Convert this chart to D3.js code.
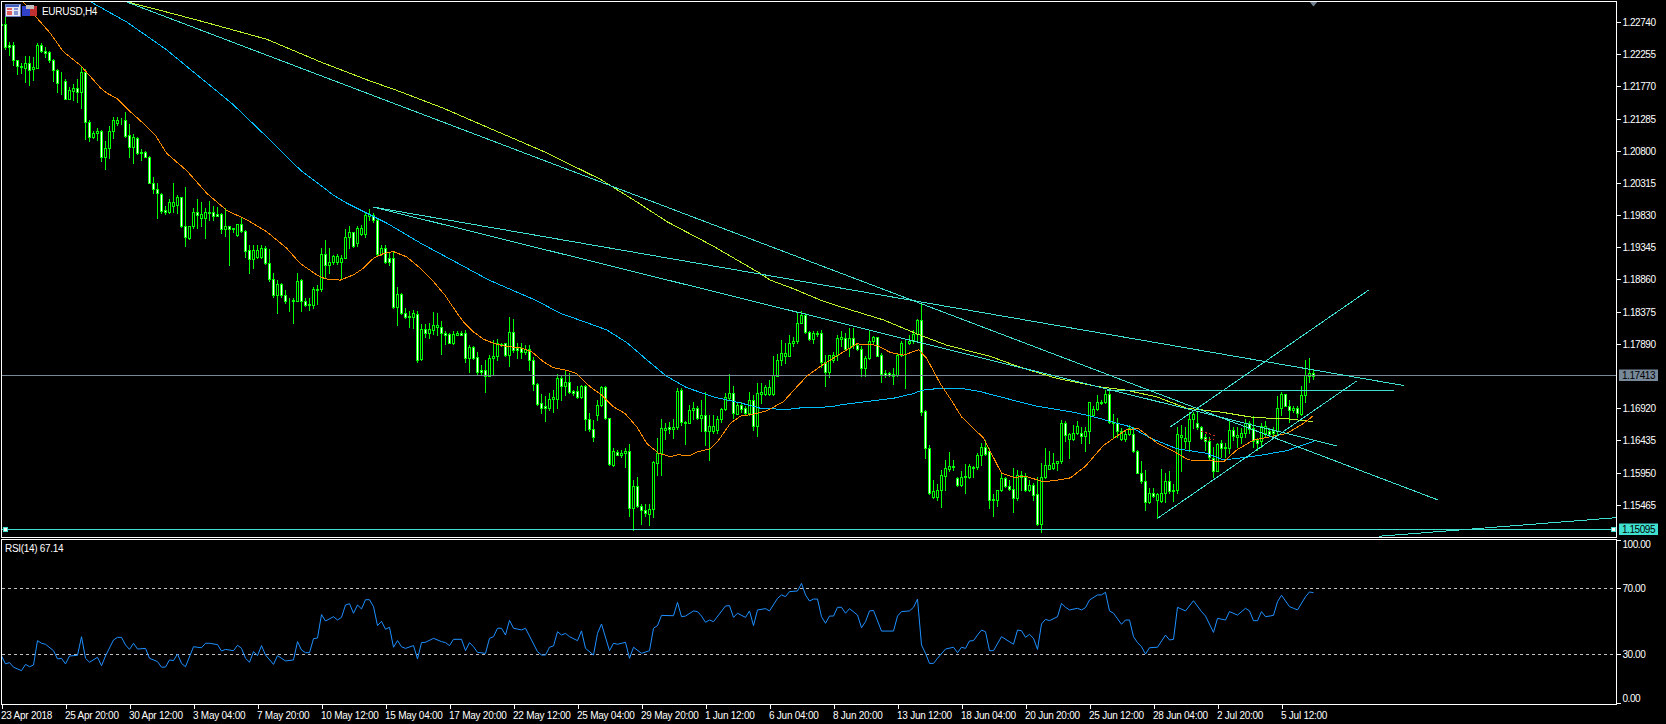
<!DOCTYPE html>
<html><head><meta charset="utf-8">
<style>html,body{margin:0;padding:0;background:#000;overflow:hidden}svg{display:block}
text{font-family:"Liberation Sans",Arial,sans-serif;font-size:10px;letter-spacing:-.45px;fill:#fff}
.t text{letter-spacing:-.25px}</style>
<script src="https://cdn.jsdelivr.net/npm/d3@7"></script></head><body><svg id="c" width="1666" height="724"></svg>
<script>
// All prices are in 1/10000 units (12274 = 1.2274)
const opens=[12271,12271,12239,12239,12216,12208,12205,12212,12203,12205,
12239,12230,12229,12216,12201,12184,12185,12158,12170,12174,
12169,12198,12124,12101,12106,12110,12070,12084,12110,12122,
12126,12127,12104,12086,12099,12078,12078,12071,12032,12023,
12015,11991,11988,11997,11998,12010,11966,11948,11966,11987,
11978,11978,11986,11987,11984,11984,11962,11966,11963,11953,
11970,11959,11930,11917,11920,11920,11934,11911,11887,11863,
11879,11862,11854,11854,11854,11885,11854,11849,11848,11870,
11872,11925,11908,11913,11913,11913,11919,11950,11957,11941,
11955,11955,11982,11983,11976,11925,11934,11918,11918,11845,
11864,11836,11831,11830,11834,11766,11811,11805,11810,11814,
11814,11805,11804,11791,11803,11805,11805,11768,11784,11769,
11750,11750,11740,11767,11770,11787,11790,11772,11807,11782,
11783,11776,11781,11765,11729,11700,11695,11693,11706,11706,
11737,11725,11731,11718,11718,11709,11726,11675,11661,11681,
11697,11724,11677,11607,11626,11621,11625,11627,11541,11575,
11545,11539,11533,11540,11610,11624,11659,11663,11661,11663,
11720,11671,11670,11689,11692,11677,11681,11657,11657,11659,
11675,11691,11707,11715,11684,11697,11692,11685,11705,11665,
11714,11714,11714,11714,11741,11764,11771,11771,11790,11793,
11820,11833,11807,11797,11804,11805,11762,11746,11765,11772,
11796,11798,11782,11798,11787,11781,11752,11767,11793,11799,
11772,11745,11745,11741,11742,11772,11790,11790,11793,11804,
11825,11688,11632,11558,11558,11568,11590,11601,11603,11587,
11577,11588,11588,11602,11603,11622,11634,11628,11555,11553,
11568,11587,11575,11570,11556,11592,11588,11569,11576,11562,
11518,11588,11601,11602,11610,11612,11669,11646,11646,11655,
11655,11650,11657,11681,11691,11700,11701,11713,11671,11670,
11645,11645,11653,11653,11627,11595,11582,11550,11564,11553,
11552,11564,11583,11569,11568,11648,11643,11643,11675,11670,
11664,11649,11642,11617,11598,11639,11632,11632,11659,11648,
11648,11655,11670,11662,11644,11642,11654,11658,11657,11657,
11692,11713,11696,11689,11693,11684,11712,11741,11745];
const highs=[12272,12282,12244,12244,12217,12212,12223,12223,12222,12242,
12243,12237,12231,12218,12203,12199,12188,12176,12181,12188,
12208,12203,12126,12109,12115,12111,12095,12117,12131,12131,
12130,12139,12120,12105,12101,12082,12080,12072,12040,12031,
12016,11997,12008,12032,12013,12011,12025,11966,11993,12008,
12003,11993,12004,11996,11995,11986,11993,11966,11964,11970,
11978,11961,11938,11938,11938,11938,11936,11932,11895,11885,
11881,11870,11858,11858,11895,11886,11858,11858,11875,11878,
11934,11946,11933,11923,11925,11923,11962,11966,11958,11967,
11968,11986,11992,11986,11978,11938,11938,11928,11928,11874,
11865,11843,11838,11840,11838,11819,11819,11820,11837,11835,
11823,11808,11806,11808,11808,11808,11810,11787,11786,11776,
11757,11765,11772,11795,11796,11790,11790,11829,11826,11790,
11790,11787,11787,11769,11730,11714,11710,11715,11720,11744,
11742,11750,11745,11720,11725,11727,11727,11685,11674,11705,
11725,11726,11677,11632,11629,11629,11632,11638,11584,11589,
11548,11547,11547,11612,11647,11676,11670,11671,11676,11722,
11722,11672,11697,11702,11696,11705,11716,11682,11682,11680,
11692,11715,11744,11725,11700,11702,11696,11717,11712,11730,
11730,11727,11735,11771,11774,11795,11790,11803,11800,11835,
11838,11835,11808,11808,11808,11810,11772,11772,11777,11803,
11808,11806,11813,11813,11790,11785,11771,11810,11801,11800,
11775,11750,11747,11752,11774,11793,11795,11803,11810,11826,
11850,11689,11637,11584,11578,11599,11614,11626,11614,11589,
11597,11608,11608,11605,11624,11639,11644,11632,11562,11569,
11594,11589,11584,11602,11599,11597,11595,11584,11579,11589,
11609,11632,11627,11624,11613,11674,11672,11654,11667,11672,
11664,11664,11702,11695,11712,11705,11720,11722,11684,11677,
11662,11659,11667,11664,11629,11612,11599,11572,11572,11564,
11600,11595,11597,11578,11664,11667,11664,11686,11687,11687,
11665,11653,11649,11634,11639,11644,11639,11672,11664,11664,
11662,11675,11672,11680,11647,11669,11672,11662,11664,11711,
11717,11713,11705,11695,11696,11726,11764,11768,11750];
const lows=[12268,12234,12224,12209,12196,12197,12183,12179,12187,12204,
12229,12222,12214,12185,12169,12166,12158,12158,12157,12154,
12144,12097,12095,12099,12096,12064,12053,12069,12099,12119,
12121,12101,12071,12062,12075,12066,12070,12031,12017,11979,
11986,11985,11986,11988,11986,11965,11936,11947,11963,11963,
11966,11948,11976,11975,11981,11956,11951,11908,11958,11952,
11957,11920,11895,11903,11918,11919,11910,11883,11860,11836,
11860,11851,11839,11821,11853,11839,11846,11840,11843,11849,
11869,11890,11896,11910,11910,11888,11918,11933,11935,11937,
11953,11950,11976,11973,11923,11923,11911,11908,11843,11818,
11834,11828,11814,11813,11762,11765,11799,11798,11804,11803,
11774,11788,11790,11788,11803,11802,11761,11747,11766,11744,
11742,11716,11740,11742,11765,11786,11771,11755,11777,11767,
11767,11774,11749,11720,11697,11685,11673,11690,11687,11692,
11704,11712,11715,11712,11707,11707,11659,11658,11643,11674,
11695,11675,11607,11605,11621,11619,11604,11529,11508,11543,
11518,11530,11516,11528,11592,11592,11645,11655,11647,11660,
11667,11638,11669,11675,11676,11657,11637,11614,11655,11655,
11671,11690,11704,11677,11683,11687,11683,11682,11659,11650,
11700,11712,11712,11712,11740,11757,11760,11771,11785,11791,
11820,11805,11795,11790,11801,11754,11725,11739,11762,11765,
11785,11780,11770,11782,11780,11740,11740,11766,11790,11770,
11731,11739,11740,11729,11741,11771,11722,11789,11791,11795,
11682,11617,11562,11557,11554,11543,11569,11598,11599,11575,
11574,11564,11587,11589,11601,11607,11622,11541,11530,11544,
11567,11573,11568,11535,11554,11569,11567,11567,11554,11516,
11506,11587,11600,11600,11599,11610,11643,11617,11644,11653,
11639,11627,11639,11680,11689,11699,11700,11669,11649,11648,
11644,11643,11652,11626,11594,11580,11539,11549,11558,11526,
11550,11550,11564,11552,11564,11598,11632,11628,11662,11660,
11645,11629,11614,11588,11597,11619,11619,11625,11644,11634,
11639,11649,11655,11634,11629,11634,11649,11650,11652,11652,
11681,11695,11671,11687,11679,11682,11701,11732,11736];
const closes=[12269,12237,12237,12216,12207,12206,12212,12201,12206,12239,
12230,12228,12216,12201,12182,12183,12158,12171,12174,12169,
12198,12124,12101,12106,12110,12070,12084,12110,12127,12127,
12127,12102,12086,12100,12076,12076,12071,12032,12023,12016,
11989,11988,12002,12002,12010,11966,11950,11966,11987,11983,
11985,11987,11988,11982,11982,11962,11966,11962,11962,11969,
11959,11929,11917,11931,11931,11934,11911,11887,11863,11879,
11863,11853,11853,11855,11884,11854,11848,11847,11871,11872,
11925,11908,11913,11922,11922,11919,11950,11958,11937,11963,
11963,11983,11985,11976,11925,11934,11913,11913,11845,11864,
11836,11829,11829,11835,11765,11811,11806,11811,11818,11817,
11805,11803,11791,11804,11806,11803,11768,11784,11768,11746,
11746,11740,11767,11771,11790,11789,11772,11807,11779,11779,
11776,11781,11765,11728,11699,11692,11692,11706,11709,11737,
11725,11731,11717,11715,11709,11725,11675,11661,11648,11697,
11724,11677,11608,11627,11622,11625,11627,11541,11575,11544,
11538,11534,11540,11611,11624,11662,11662,11660,11663,11718,
11671,11670,11690,11692,11677,11682,11657,11665,11665,11675,
11691,11709,11715,11685,11697,11691,11685,11705,11665,11715,
11717,11724,11724,11742,11765,11775,11775,11790,11793,11820,
11833,11807,11797,11805,11805,11762,11746,11772,11772,11798,
11799,11781,11798,11787,11781,11752,11767,11793,11799,11771,
11743,11742,11742,11744,11772,11790,11791,11794,11804,11825,
11687,11632,11564,11567,11568,11592,11602,11605,11605,11576,
11589,11590,11605,11604,11622,11634,11623,11554,11553,11569,
11587,11574,11570,11556,11592,11589,11569,11577,11561,11518,
11588,11607,11606,11610,11612,11669,11652,11653,11654,11665,
11650,11657,11701,11691,11702,11702,11713,11671,11670,11657,
11658,11653,11662,11627,11595,11582,11550,11564,11560,11562,
11564,11582,11567,11567,11653,11652,11647,11676,11684,11663,
11647,11642,11619,11598,11638,11632,11634,11659,11650,11652,
11655,11670,11661,11643,11640,11665,11665,11653,11654,11692,
11713,11696,11689,11692,11685,11712,11742,11745,11741];

// Moving averages as [bar, price] vertices
const orangeMA=[[5.2,12306],[8,12286],[12.2,12257],[15.5,12229],[19.7,12209],[24.7,12175],[26.3,12167],[28.8,12159],[31.8,12141],[35.5,12121],[38.4,12104],[41.3,12076],[46.3,12050],[51.3,12016],[56.3,11990],[61.3,11976],[66.3,11958],[71.3,11933],[74.7,11910],[78.8,11893],[80.9,11887],[84.7,11885],[88,11893],[90.5,11903],[93,11918],[95.5,11925],[98,11928],[101.3,11920],[104.7,11903],[107.7,11885],[110.9,11862],[113.8,11836],[115.5,11822],[118,11807],[120.5,11796],[123.4,11789],[126.3,11785],[129.7,11783],[132.6,11777],[135.5,11762],[138,11753],[141.3,11749],[143.8,11744],[147.2,11724],[150,11712],[153,11694],[155.9,11684],[158.8,11664],[161.3,11639],[164.3,11624],[167.2,11619],[169.3,11622],[171.8,11620],[173.8,11626],[177.2,11631],[179.3,11644],[182.2,11669],[184.7,11680],[188,11683],[191.3,11688],[195.5,11702],[198.8,11724],[201.3,11740],[204.7,11755],[209.7,11774],[213.8,11789],[218.8,11787],[222.2,11776],[225.5,11772],[229.3,11780],[231.3,11767],[234.7,11729],[238,11699],[240,11679],[245.5,11647],[250,11594],[253,11588],[256.3,11589],[260.5,11581],[264.3,11584],[267.2,11587],[270.9,11604],[275.5,11636],[281.3,11660],[284.3,11661],[288.8,11640],[293,11627],[296.8,11614],[302.2,11613],[305.5,11611],[308.8,11629],[313,11644],[317.2,11649],[321.3,11654],[325.5,11669],[327.8,11680]];
const blueMA=[[21.5,12307],[31.3,12274],[41.3,12232],[46.3,12207],[53,12174],[58,12149],[66.3,12101],[74.7,12051],[83,12013],[86.3,12001],[91.3,11986],[96.3,11971],[104.7,11941],[121.9,11885],[133.8,11854],[139.7,11835],[146.3,11821],[151.3,11810],[156.3,11791],[161.3,11765],[166.3,11740],[171.3,11723],[178,11709],[184.7,11700],[189.7,11692],[196.3,11690],[200.5,11693],[207.2,11694],[209.7,11697],[216.3,11702],[223,11707],[228,11714],[230,11719],[234.7,11722],[239.7,11722],[244.7,11717],[249.7,11709],[258.8,11695],[268,11686],[273,11679],[282.2,11664],[287.2,11647],[293.8,11631],[301.3,11624],[305.5,11614],[309.7,11617],[314.7,11621],[321.3,11628],[328,11642]];
const limeMA=[[29.7,12307],[41.3,12289],[51.3,12273],[66.3,12248],[79.7,12214],[91.3,12187],[99.7,12169],[110.5,12144],[123.9,12109],[135.5,12079],[149.7,12037],[158,12006],[166.4,11973],[178,11936],[189.7,11895],[192.2,11885],[198,11872],[204.7,11855],[209.7,11845],[220.5,11825],[229.7,11802],[236.3,11787],[247.2,11770],[255.5,11752],[263.8,11737],[274.7,11724],[281.3,11719],[288.8,11709],[296.3,11692],[305,11686],[313,11678],[321.3,11676],[327.8,11672]];

// Trend lines as [bar, price] end points
const trendLines=[
 [[29.2,12309],[359,11554]],
 [[93,11995],[350.7,11726]],
 [[93,11995],[333.9,11635]],
 [[276.4,11719],[348,11719]],
 [[344.4,11499],[403.7,11527]],
 [[289,11526],[338.8,11733]],
 [[292,11663],[341.8,11870]]
];
const redDashes=[[[300,11657],[303.7,11650]],[[300.9,11645],[303.2,11644]]];
const supportLevel=11509.5, bidLevel=11741.3;

const rsiSeries=[[0,28.8],[1,24],[2,24.8],[3,22],[5,19.9],[6,23.7],[7,22.3],[8,23.3],[9,38.1],[10,36.5],[11,35.9],[13,32],[14,27],[15,27.4],[16,24],[17,28.8],[19,29.2],[20,40.5],[21,27.4],[22,25],[24,28],[25,22.9],[26,28.8],[28,38.5],[29,40.1],[30,40.1],[31,35.5],[32,32.8],[33,36.5],[34,33],[36,33.4],[37,27.4],[39,25.4],[40,22],[41,22.1],[42,26.4],[43,26],[44,30],[45,24.3],[46,22.3],[48,34.4],[50,33.8],[51,36.5],[52,36.5],[54,35.7],[55,31.8],[56,32.8],[58,32],[59,35.3],[60,33.4],[61,27.4],[62,25],[63,31.4],[64,29],[65,35.1],[66,29.4],[68,23.7],[69,29],[71,25.8],[73,26.4],[74,37.5],[75,32.4],[76,30.8],[77,30.8],[78,39.3],[79,39.7],[80,53.9],[81,50],[83,52.6],[84,50.6],[85,52.2],[86,59.7],[87,60.5],[88,54.7],[89,59.7],[90,57.3],[91,62.9],[92,62.9],[93,58.7],[94,47.2],[95,49.8],[96,45],[97,46.2],[98,34.1],[99,38.1],[100,34.4],[101,33.4],[103,35.1],[104,27],[105,36.9],[106,37.1],[108,39.5],[110,37.5],[111,36.9],[112,35.1],[113,38.9],[115,38.9],[116,32],[117,36.9],[118,34.4],[119,31],[121,30.4],[122,39.5],[123,40.5],[124,45.6],[125,45.6],[126,41.5],[127,50.4],[128,45.6],[130,44.6],[131,45.6],[134,31.4],[135,29.4],[136,29.4],[137,34.1],[138,34.9],[139,43.5],[140,41.5],[141,42.5],[142,40.5],[144,38.1],[145,44],[146,33.4],[148,29.4],[149,42.5],[150,48.2],[152,32],[153,36.5],[154,35.9],[156,37.1],[157,27.4],[158,34.1],[160,30.4],[162,32],[163,45.6],[164,47.2],[165,53.4],[168,53.2],[169,61.3],[170,52.6],[171,53],[173,56.1],[174,55.7],[175,53],[176,49.2],[177,50.6],[178,49.6],[181,59.1],[182,59.3],[183,52.2],[184,54.7],[186,52.2],[187,56.1],[188,47.2],[189,56.7],[191,57.5],[192,56.1],[194,63.7],[195,65.8],[196,64.8],[197,67.8],[199,68.2],[200,72.8],[201,65.8],[202,62.1],[203,63.3],[204,63.3],[205,52.6],[206,48.6],[207,53],[208,53],[209,58.3],[210,58.3],[211,54.7],[212,57.5],[214,53.6],[215,45.9],[216,49.6],[217,56.1],[218,56.4],[220,43.9],[223,43.9],[224,53],[225,55.7],[227,56.1],[228,58.3],[229,63.3],[230,35.5],[231,30.4],[232,24.3],[233,24.3],[234,27.4],[236,33],[238,34.1],[239,30.8],[240,34.1],[241,33.4],[242,37.9],[243,38.1],[244,41.5],[245,44.5],[246,43.5],[247,32],[248,32],[250,40.5],[253,35.9],[254,44.5],[255,44.1],[256,40.1],[257,41.9],[258,39.5],[259,32.8],[260,48.2],[261,51],[262,50.2],[264,52.6],[265,60.7],[266,58.3],[267,56.7],[269,57.7],[270,56.7],[271,58.1],[272,62.7],[274,65.8],[275,65.8],[276,67.4],[277,56.1],[278,54.7],[280,48],[281,50.6],[282,50.6],[283,40.5],[284,36.9],[285,34.4],[286,30],[287,33.8],[289,34.1],[291,41.5],[292,38.5],[293,38.9],[294,58.3],[296,56.1],[298,62.3],[300,55.7],[301,53],[303,43.1],[304,51.6],[306,50.6],[307,55.7],[309,53.6],[311,57.7],[312,56.1],[313,50.2],[314,50.2],[315,55.7],[316,52.6],[318,53.4],[319,61.7],[320,65.6],[322,58.7],[323,57.7],[324,56.7],[326,64.7],[327,67.6],[328,67.14]];

const priceTicks=[1.2274,1.22255,1.2177,1.21285,1.208,1.20315,1.1983,1.19345,1.1886,1.18375,1.1789,1.1692,1.16435,1.1595,1.15465];
const rsiTicks=[100,70,30,0];
const timeTickBars=[0,16,32,48,64,80,96,112,128,144,160,176,192,208,224,240,256,272,288,304,320];
const timeTickLabels=["23 Apr 2018","25 Apr 20:00","30 Apr 12:00","3 May 04:00","7 May 20:00","10 May 12:00","15 May 04:00","17 May 20:00","22 May 12:00","25 May 04:00","29 May 20:00","1 Jun 12:00","6 Jun 04:00","8 Jun 20:00","13 Jun 12:00","18 Jun 04:00","20 Jun 20:00","25 Jun 12:00","28 Jun 04:00","2 Jul 20:00","5 Jul 12:00"];
const titleText="EURUSD,H4", rsiTitle="RSI(14) 67.14", bidLabel="1.17413", supportLabel="1.15095";

const L=1.5,R=1616.5,T=1.5,B=537.5,RT=539.5,RB=704.5;
const svg=d3.select("#c");
const defs=svg.append("defs");
defs.append("clipPath").attr("id","m").append("rect").attr("x",2).attr("y",2).attr("width",1614).attr("height",535);
defs.append("clipPath").attr("id","r").append("rect").attr("x",2).attr("y",540).attr("width",1614).attr("height",164);
const x=d3.scaleLinear().domain([0,328]).range([1.5,1313.5]);
const y=d3.scaleLinear().domain([12274,11509.5]).range([22,529.3]);
const ry=d3.scaleLinear().domain([0,100]).range([703.5,538.5]);
const py=v=>Math.round(y(v));
const main=svg.append("g").attr("clip-path","url(#m)").attr("shape-rendering","crispEdges");
const GREEN="#00ff00",TURQ="#40e0d0",GRAY="#778899";

const bars=d3.range(closes.length);
main.append("g").selectAll("line").data(bars).join("line")
 .attr("x1",i=>x(i)).attr("x2",i=>x(i)).attr("y1",i=>py(highs[i])).attr("y2",i=>py(lows[i])+1).attr("stroke",GREEN);
main.append("g").selectAll("rect").data(bars).join("rect")
 .attr("x",i=>x(i)-1).attr("width",2)
 .attr("y",i=>py(Math.max(opens[i],closes[i]))+.5)
 .attr("height",i=>Math.max(0,py(Math.min(opens[i],closes[i]))-py(Math.max(opens[i],closes[i]))))
 .attr("fill",i=>closes[i]>=opens[i]?"#000":"#fff").attr("stroke",GREEN);

// horizontal levels
main.append("line").attr("x1",L).attr("x2",R).attr("y1",py(bidLevel)+.5).attr("y2",py(bidLevel)+.5).attr("stroke",GRAY);
main.append("line").attr("x1",L).attr("x2",R).attr("y1",py(supportLevel)+.5).attr("y2",py(supportLevel)+.5).attr("stroke",TURQ);

const line=d3.line().x(d=>x(d[0])).y(d=>y(d[1]));
[[limeMA,"#b8f52a"],[blueMA,"#00bfff"],[orangeMA,"#ff8c00"]].forEach(([s,c])=>
 main.append("path").attr("d",line(s)).attr("fill","none").attr("stroke",c));
trendLines.forEach(s=>main.append("path").attr("d",line(s)).attr("fill","none").attr("stroke",TURQ));
redDashes.forEach(s=>main.append("path").attr("d",line(s)).attr("fill","none").attr("stroke","#d03020").attr("stroke-dasharray","2,2"));

// anchors of the support line
[[3,5],[1611,5]].forEach(([ax,s])=>svg.append("rect").attr("x",ax+.5).attr("y",py(supportLevel)-2+.5).attr("width",s-1).attr("height",s-1)
 .attr("fill","#fff").attr("stroke",TURQ).attr("shape-rendering","crispEdges"));
// shift marker
svg.append("path").attr("d",d3.line()([[1309,1],[1318,1],[1313.5,6.5]])).attr("fill","#708090");

// RSI pane
const rp=svg.append("g").attr("clip-path","url(#r)");
rp.selectAll("line.l").data([70,30]).join("line").attr("class","l").attr("x1",L).attr("x2",R)
 .attr("y1",d=>Math.round(ry(d))+.5).attr("y2",d=>Math.round(ry(d))+.5).attr("stroke","#c0c0c0").attr("stroke-dasharray","3,3").attr("shape-rendering","crispEdges");
rp.append("path").attr("d",line.y(d=>ry(d[1]))(rsiSeries)).attr("fill","none").attr("stroke","#1e90ff").attr("stroke-linejoin","round");

// frames
const fr=svg.append("g").attr("fill","none").attr("stroke","#fff").attr("shape-rendering","crispEdges");
fr.append("rect").attr("x",L).attr("y",T).attr("width",R-L).attr("height",B-T);
fr.append("rect").attr("x",L).attr("y",RT).attr("width",R-L).attr("height",RB-RT);

// axes
function styleAxis(g){g.select(".domain").remove();g.selectAll("line").attr("stroke","#fff").attr("shape-rendering","crispEdges");g.selectAll("text").attr("fill","#fff").style("font-family",null).style("font-size",null);g.attr("font-family",null).attr("font-size",null);}
const priceAxis=svg.append("g").attr("transform","translate(1616.5,0)").call(
 d3.axisRight(y.copy().domain([1.2274,1.15095])).tickValues(priceTicks).tickSize(4).tickPadding(2).tickFormat(d3.format(".5f"))).call(styleAxis);
priceAxis.selectAll("g.tick").attr("transform",d=>`translate(0,${Math.round(y(d*1e4))+.5})`);
const rsiAxis=svg.append("g").attr("transform","translate(1616.5,0)").call(
 d3.axisRight(ry).tickValues(rsiTicks).tickSize(4).tickPadding(2).tickFormat(d3.format(".2f"))).call(styleAxis);
rsiAxis.selectAll("g.tick").attr("transform",d=>`translate(0,${d==100?540.5:d==0?703.5:Math.round(ry(d))+.5})`);
rsiAxis.selectAll("g.tick text").attr("dy",d=>d==100?"7":d==0?"-2":".32em").attr("dominant-baseline",null);
const timeAxis=svg.append("g").attr("class","t").attr("transform","translate(0,704.5)").call(
 d3.axisBottom(x).tickValues(timeTickBars).tickSize(4).tickPadding(3).tickFormat((d,i)=>timeTickLabels[i])).call(styleAxis);
timeAxis.selectAll("text").attr("text-anchor","start").attr("dx","-1");

// price labels
[[bidLevel,bidLabel,GRAY],[supportLevel,supportLabel,TURQ]].forEach(([v,t,c])=>{
 const yy=py(v);
 svg.append("rect").attr("x",1619).attr("y",yy-5.5).attr("width",39).attr("height",11.5).attr("fill",c);
 svg.append("text").attr("x",1622).attr("y",yy+4).style("fill","#000").text(t);
});

// titles and icons
svg.append("text").attr("x",42).attr("y",14.5).style("letter-spacing","-.3px").text(titleText);
svg.append("text").attr("x",5).attr("y",552).style("letter-spacing","-.3px").text(rsiTitle);
const ic=svg.append("g").attr("shape-rendering","crispEdges");
ic.append("rect").attr("x",5).attr("y",4).attr("width",15).attr("height",12).attr("fill","#e8e8f4").attr("stroke","#7080c0");
ic.append("rect").attr("x",6).attr("y",5).attr("width",13).attr("height",2).attr("fill","#4060c0");
[8,11,13].forEach(yy=>{ic.append("rect").attr("x",7).attr("y",yy).attr("width",5).attr("height",1.5).attr("fill","#e06060");
 ic.append("rect").attr("x",14).attr("y",yy).attr("width",4).attr("height",1.5).attr("fill","#8090d0");});
ic.append("rect").attr("x",22).attr("y",6).attr("width",8).attr("height",10).attr("fill","#3040c8");
ic.append("rect").attr("x",30).attr("y",6).attr("width",7).attr("height",10).attr("fill","#c03030");
ic.append("rect").attr("x",26).attr("y",5).attr("width",8).attr("height",4).attr("fill","#c0c0c0");
</script></body></html>
